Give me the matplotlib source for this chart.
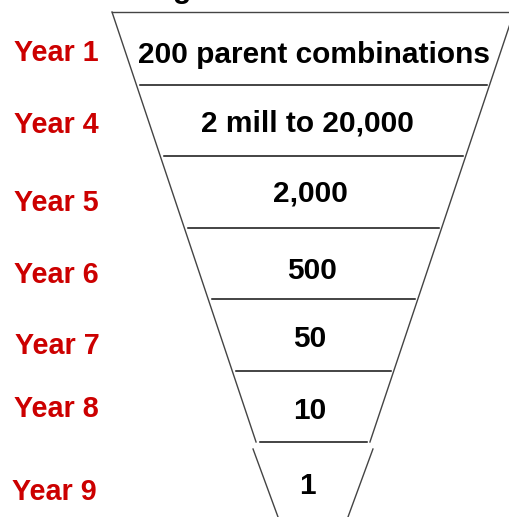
import matplotlib
matplotlib.use("Agg")
import matplotlib.pyplot as plt

# ---- data ----
years = ["Year 1", "Year 4", "Year 5", "Year 6", "Year 7", "Year 8", "Year 9"]
stages = ["200 parent combinations", "2 mill to 20,000", "2,000", "500", "50", "10", "1"]
title_fragment = "Breeding"

# ---- layout (pixel space) ----
W, H = 509, 517
top_y = 12
dividers_y = [85, 156, 228, 299, 371, 442]
left_top_x, right_top_x = 112, 514
slope = 0.335
year_base = [61, 133, 211, 283, 354, 417, 500]
year_x = [14, 14, 14, 14, 15, 14, 12]
stage_base = [63, 132, 202, 279, 347, 419, 494]
stage_x = [314, 307, 310, 312, 310, 310, 307]

fig = plt.figure(figsize=(W / 100, H / 100), dpi=100)
ax = fig.add_axes([0, 0, 1, 1])
ax.set_xlim(0, W)
ax.set_ylim(H, 0)
ax.axis("off")

def lx(y):
    return left_top_x + slope * (y - top_y)

def rx(y):
    return right_top_x - slope * (y - top_y)

side_col = "#444444"
# top edge
ax.plot([left_top_x, right_top_x], [top_y, top_y], color=side_col, lw=1.0)
# sides (upper part continuous, last band separate)
y_break = dividers_y[-1]
ax.plot([lx(top_y), lx(y_break)], [top_y, y_break], color=side_col, lw=1.0)
ax.plot([rx(top_y), rx(y_break)], [top_y, y_break], color=side_col, lw=1.0)
ax.plot([lx(y_break) - 3, lx(H + 5) - 3], [y_break + 7, H + 5], color=side_col, lw=1.0)
ax.plot([rx(y_break) + 3, rx(H + 5) + 3], [y_break + 7, H + 5], color=side_col, lw=1.0)

# dividers
for y in dividers_y:
    ax.plot([lx(y) + 4, rx(y) - 3], [y, y], color="#111111", lw=1.1)

fp = dict(family=["Liberation Sans", "DejaVu Sans"], weight="bold")
for t, x, y in zip(stages, stage_x, stage_base):
    ax.text(x, y, t, ha="center", va="baseline", fontsize=21.5, color="black", **fp)

for t, x, y in zip(years, year_x, year_base):
    ax.text(x, y, t, ha="left", va="baseline", fontsize=20.7, color="#CC0000", **fp)

ax.text(191, -2, title_fragment, ha="right", va="baseline", fontsize=21.5, color="black", **fp)

fig.savefig("out.png", dpi=100)
